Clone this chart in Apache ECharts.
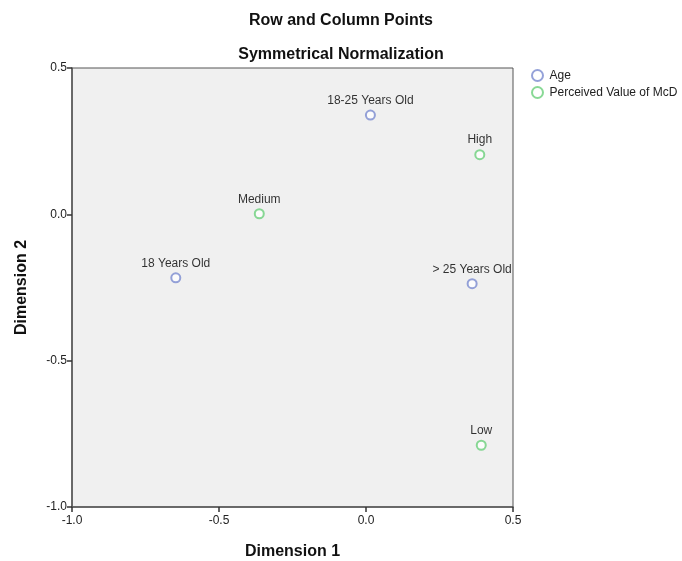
<!DOCTYPE html>
<html><head><meta charset="utf-8">
<script src="https://cdn.jsdelivr.net/npm/echarts@6/dist/echarts.min.js"></script>
<style>html,body{margin:0;padding:0;background:#fff}#c{width:682px;height:561px}</style>
</head><body><div id="c"></div>
<script>
const ageNames = ['18-25 Years Old', '18 Years Old', '> 25 Years Old'];
const ageDim1 = [0.015, -0.647, 0.361];
const ageDim2 = [0.339, -0.217, -0.237];
const mcdNames = ['High', 'Medium', 'Low'];
const mcdDim1 = [0.387, -0.363, 0.392];
const mcdDim2 = [0.204, 0.002, -0.789];
const axisTicks = [-1.0, -0.5, 0.0, 0.5];

const FONT = '"Liberation Sans", Arial, sans-serif';
const BLUE = '#7a8bd0', GREEN = '#6ccf7c';
function pts(names, xs, ys){ return names.map((n,i)=>({name:n, value:[xs[i], ys[i]]})); }
const chart = echarts.init(document.getElementById('c'));
const axisCommon = {
  type:'value', min:-1.0, max:0.5, interval:0.5,
  axisLine:{show:true, onZero:false, lineStyle:{color:'#555', width:1.5}},
  axisTick:{show:true, inside:false, length:5, lineStyle:{color:'#333', width:1.5}},
  axisLabel:{color:'#222', fontSize:12, fontFamily:FONT, formatter:v=>v.toFixed(1)},
  splitLine:{show:false},
  nameLocation:'middle',
  nameTextStyle:{color:'#111', fontSize:16, fontWeight:'bold', fontFamily:FONT}
};
const labelStyle = {show:true, position:'top', distance:3, formatter:'{b}', color:'#000', fontSize:12, fontFamily:FONT};
chart.setOption({
  animation:false,
  backgroundColor:'#fff',
  title:[
    {text:'Row and Column Points', left:'center', top:8, textStyle:{fontSize:16, fontWeight:'bold', color:'#111', fontFamily:FONT}},
    {text:'Symmetrical Normalization', left:'center', top:42, textStyle:{fontSize:16, fontWeight:'bold', color:'#111', fontFamily:FONT}}
  ],
  legend:{
    left:526, top:64, orient:'vertical', itemGap:4, itemWidth:14, itemHeight:11, itemTextGap:3,
    textStyle:{fontSize:12, color:'#222', fontFamily:FONT},
    data:['Age','Perceived Value of McD']
  },
  grid:{left:72, right:169, top:68, bottom:54, show:true, outerBoundsMode:'none', containLabel:false,
    backgroundColor:'#f0f0f0', borderColor:'#555', borderWidth:1},
  xAxis:Object.assign({}, axisCommon, {name:'Dimension 1', nameGap:37,
    axisLabel:Object.assign({}, axisCommon.axisLabel, {margin:8})}),
  yAxis:Object.assign({}, axisCommon, {name:'Dimension 2', nameGap:42,
    axisLabel:Object.assign({}, axisCommon.axisLabel, {margin:5})}),
  series:[
    {name:'Age', type:'scatter', data:pts(ageNames, ageDim1, ageDim2),
     symbol:'emptyCircle', symbolSize:9,
     itemStyle:{color:BLUE, borderColor:BLUE, borderWidth:1.5},
     label:labelStyle},
    {name:'Perceived Value of McD', type:'scatter', data:pts(mcdNames, mcdDim1, mcdDim2),
     symbol:'emptyCircle', symbolSize:9,
     itemStyle:{color:GREEN, borderColor:GREEN, borderWidth:1.5},
     label:labelStyle}
  ]
});
</script></body></html>
